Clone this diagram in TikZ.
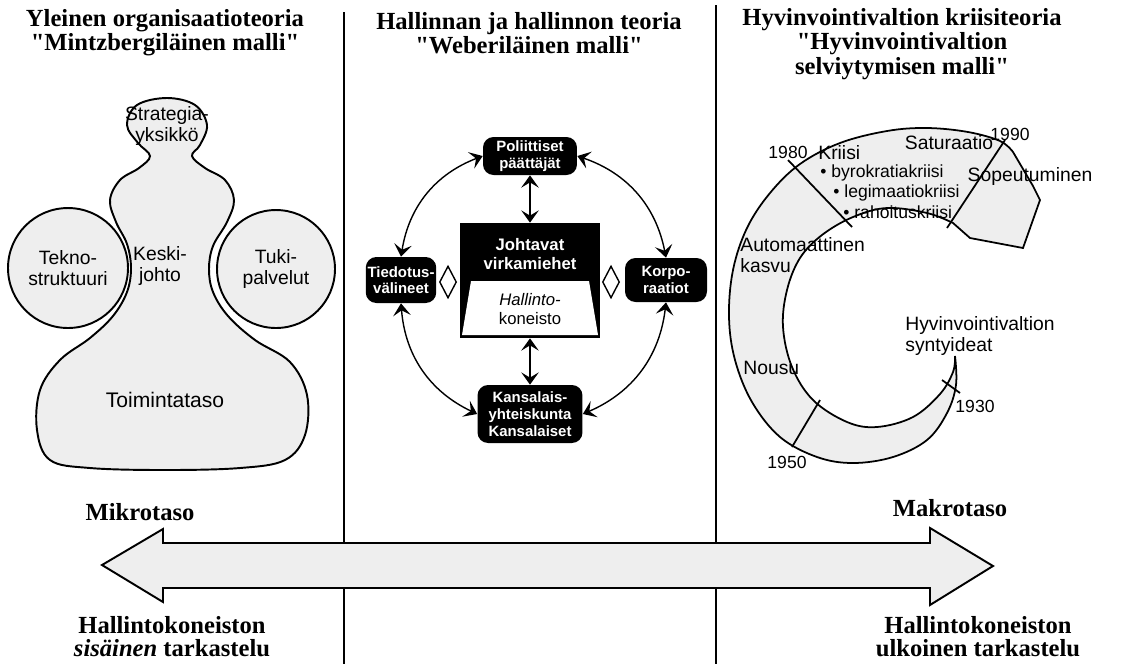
\documentclass[tikz,border=0pt]{standalone}
\usepackage{fontspec}
\setmainfont{Liberation Serif}
\newfontfamily\helv{Liberation Sans}
\usepackage{xcolor}
\usepackage{tikz}
\usetikzlibrary{arrows.meta,shapes.geometric}
\definecolor{stipple}{RGB}{238,238,238}

\begin{document}
\begin{tikzpicture}[x=0.02cm,y=-0.02cm,
  title/.style={font=\bfseries\fontsize{14}{12.5}\selectfont, align=center, inner sep=0pt},
  pole/.style={font=\bfseries\fontsize{14}{13}\selectfont, align=center, inner sep=0pt},
  lbl/.style={font=\helv\fontsize{11}{12}\selectfont, align=center, inner sep=0pt},
  small/.style={font=\helv\fontsize{10}{10}\selectfont, inner sep=0pt},
  actor/.style={rectangle, rounded corners=6pt, fill=black, text=white, align=center,
    font=\helv\bfseries\fontsize{8.5}{9.5}\selectfont, inner sep=1pt},
  link/.style={<->, >={Stealth[length=7pt,width=10pt,inset=3pt]}, line width=0.8pt},
  dia/.style={diamond, draw, fill=white, line width=0.8pt, minimum width=0.34cm,
    minimum height=0.64cm, inner sep=0pt}]

\useasboundingbox (0,0) rectangle (1125,664);

% Titles
\node[title] (t1) at (165,33) {Yleinen organisaatioteoria\\\textquotedbl Mintzbergiläinen malli\textquotedbl};
\node[title] (t2) at (529,33) {Hallinnan ja hallinnon teoria\\\textquotedbl Weberiläinen malli\textquotedbl};
\node[title] (t3) at (902,44) {Hyvinvointivaltion kriisiteoria\\\textquotedbl Hyvinvointivaltion\\selviytymisen malli\textquotedbl};

% Dividers
\draw[line width=0.8pt] (344,12) -- (344,664);
\draw[line width=0.8pt] (716,5) -- (716,664);

% Mintzberg organisation
\draw[line width=1.1pt, fill=stipple] plot[smooth cycle, tension=0.6] coordinates {
  (167,98) (195,105) (207,125) (200,145) (192,156) (205,168) (225,180) (234,200)
  (227,222) (213,246) (209,269) (213,292) (228,316) (255,340) (290,362) (307,395)
  (305,435) (285,460) (240,468) (165,470) (90,468) (50,460) (37,430) (40,390)
  (60,360) (90,338) (113,316) (127,292) (131,268) (127,244) (116,222) (110,200)
  (120,180) (139,168) (150,156) (138,143) (127,125) (137,105)};
\node[lbl, circle, draw, line width=1.1pt, fill=stipple, minimum size=2.4cm] (tekno) at (68,268) {Tekno-\\struktuuri};
\node[lbl, circle, draw, line width=1.1pt, fill=stipple, minimum size=2.36cm] (tuki) at (276,269) {Tuki-\\palvelut};
\node[lbl] (strat) at (167,126) {Strategia-\\yksikkö};
\node[lbl] (keski) at (160,266) {Keski-\\johto};
\node[lbl, font=\helv\fontsize{12}{13}\selectfont] (toim) at (165,400) {Toimintataso};

% Weber model
\node[actor, minimum width=1.88cm, minimum height=0.76cm] (pol) at (530,156) {Poliittiset\\päättäjät};
\node[actor, minimum width=1.4cm, minimum height=0.92cm] (tied) at (401,280) {Tiedotus-\\välineet};
\node[actor, minimum width=1.64cm, minimum height=0.88cm] (korp) at (666,280) {Korpo-\\raatiot};
\node[actor, minimum width=2.1cm, minimum height=1.16cm] (kans) at (530,414) {Kansalais-\\yhteiskunta\\Kansalaiset};
\node[fill=black, minimum width=2.8cm, minimum height=2.3cm] (virk) at (530,280.5) {};
\fill[white] (471,281) -- (589,281) -- (598,335) -- (462,335) -- cycle;
\node[font=\helv\bfseries\fontsize{9.5}{11}\selectfont, text=white, align=center] (johto) at (530,254) {Johtavat\\virkamiehet};
\node[font=\helv\fontsize{9.5}{11}\selectfont, align=center] (kone) at (530,309) {\textit{Hallinto-}\\koneisto};
\node[dia] (dl) at (448,282) {};
\node[dia] (dr) at (611,282) {};
\draw[link] (pol) -- (virk);
\draw[link] (virk) -- (kans);
\draw[link] (pol.west) to[bend right=30] (tied.north);
\draw[link] (pol.east) to[bend left=30] (korp.north);
\draw[link] (tied.south) to[bend right=30] (kans.west);
\draw[link] (korp.south) to[bend left=30] (kans.east);

% Welfare state spiral
\draw[line width=1pt, fill=stipple] plot[smooth, tension=0.6] coordinates {
  (955,356) (956,385) (947,413) (927,440) (893,457) (853,463) (817,457) (780,437)
  (752,402) (735,360) (729,317) (733,270) (747,228) (770,193) (800,164) (840,143)
  (887,131) (927,128) (968,132) (1000,141) (1013,152)}
  -- (1033,186) -- (1040,200) -- (1023,248) -- (970,238)
  -- plot[smooth, tension=0.6] coordinates {
  (953,223) (927,213) (887,208) (853,217) (822,235) (800,258) (787,290) (783,327)
  (792,367) (813,400) (847,422) (877,427) (913,417) (940,394) (953,372) (955,356)} -- cycle;
% Year ticks
\draw[line width=1pt] (788,160) -- (852,227);
\draw[line width=1pt] (1005,140) -- (947,228);
\draw[line width=1pt] (820,400) -- (792,447);
\draw[line width=1pt] (942,380) -- (960,393);
\node[small] (y1980) at (788,152) {1980};
\node[small] (y1990) at (1010,134) {1990};
\node[small] (y1950) at (787,462) {1950};
\node[small] (y1930) at (975,406) {1930};
\node[lbl, anchor=west] (kriisi) at (818,153) {Kriisi};
\node[small, anchor=west] (byro) at (820,173) {• byrokratiakriisi};
\node[small, anchor=west] (legi) at (833,193) {• legimaatiokriisi};
\node[small, anchor=west] (raho) at (843,212) {• rahoituskriisi};
\node[lbl] (satu) at (949,143) {Saturaatio};
\node[lbl] (sope) at (1030,176) {Sopeutuminen};
\node[lbl, anchor=west, align=left] (auto) at (740,255) {Automaattinen\\kasvu};
\node[lbl, anchor=west] (nousu) at (743,368) {Nousu};
\node[lbl, anchor=west, align=left] (synty) at (905,336) {Hyvinvointivaltion\\syntyideat};

% Scale arrow
\draw[line width=1.1pt, fill=stipple] (102,565) -- (163,529) -- (163,543) -- (930,543)
  -- (930,528) -- (993,566) -- (930,605) -- (930,588) -- (163,588) -- (163,602) -- cycle;
\node[pole] (mikro) at (140,512) {Mikrotaso};
\node[pole] (makro) at (950,508) {Makrotaso};
\node[pole] (sis) at (172,637) {Hallintokoneiston\\\textit{sisäinen} tarkastelu};
\node[pole] (ulk) at (978,637) {Hallintokoneiston\\ulkoinen tarkastelu};
\end{tikzpicture}
\end{document}
